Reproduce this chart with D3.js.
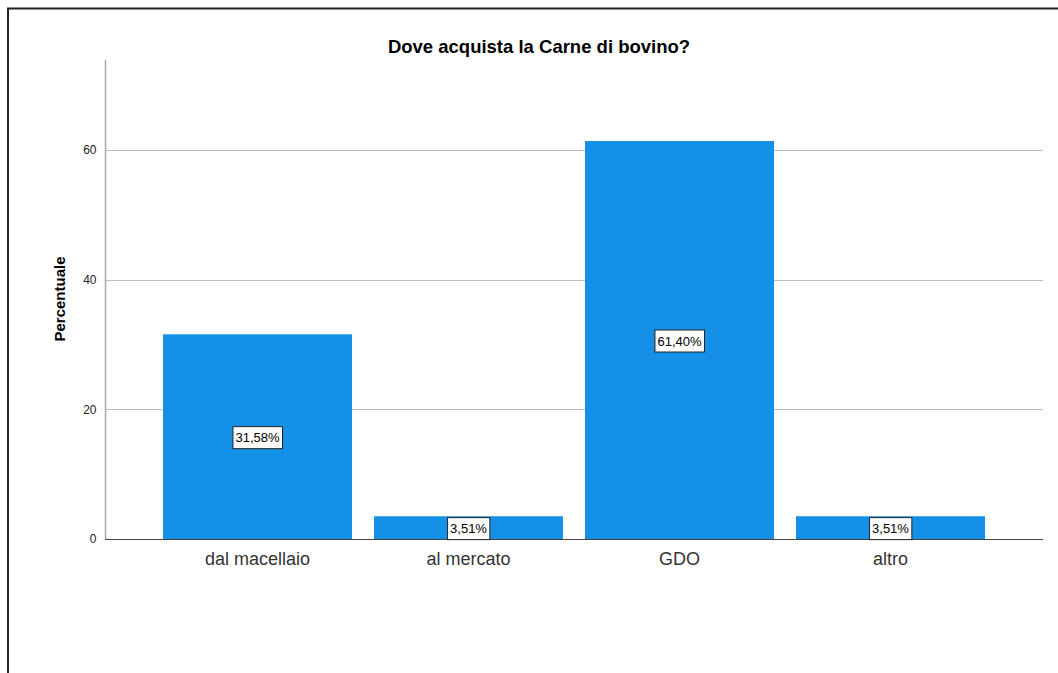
<!DOCTYPE html>
<html><head><meta charset="utf-8">
<script src="https://cdn.jsdelivr.net/npm/d3@7"></script>
<style>body{margin:0;background:#fff}svg{display:block}</style>
</head><body>
<svg id="c" width="1058" height="673"></svg>
<script>
const categories = ["dal macellaio","al mercato","GDO","altro"];
const values = [31.58, 3.51, 61.40, 3.51];
const labels = ["31,58%","3,51%","61,40%","3,51%"];
const yTicks = [0,20,40,60];
const title = "Dove acquista la Carne di bovino?";
const yTitle = "Percentuale";

const svg = d3.select("#c");
const font = "'Liberation Sans', Arial, sans-serif";
// frame
svg.append("rect").attr("x",8).attr("y",8.5).attr("width",1100).attr("height",700)
  .attr("fill","none").attr("stroke","#222").attr("stroke-width",2);

const x0=105, x1=1043, yBase=539, yTop=60;
const y = d3.scaleLinear().domain([0,73.9]).range([yBase,yTop]);
const x = d3.scaleBand().domain(categories).range([x0,x1]).paddingInner(0.1043).paddingOuter(0.275);

// gridlines
svg.append("g").selectAll("line").data(yTicks.filter(d=>d>0)).join("line")
  .attr("x1",x0).attr("x2",x1).attr("y1",d=>Math.round(y(d))+0.5).attr("y2",d=>Math.round(y(d))+0.5)
  .attr("stroke","#bdbdbd").attr("stroke-width",1);

// bars
svg.append("g").selectAll("rect").data(values).join("rect")
  .attr("x",(d,i)=>x(categories[i])).attr("width",x.bandwidth())
  .attr("y",d=>y(d)).attr("height",d=>yBase-y(d))
  .attr("fill","#1490e6");

// y axis
const yAxis = d3.axisLeft(y).tickValues(yTicks).tickSize(0).tickPadding(9);
const gy = svg.append("g").attr("transform",`translate(${x0+0.5},0)`).call(yAxis);
gy.select(".domain").attr("stroke","#a8a8a8").attr("stroke-width",1.5).attr("d",`M0,${yTop}V${yBase}`);
gy.selectAll("text").attr("font-family",font).attr("font-size",12).attr("fill","#222");

// x axis
const xAxis = d3.axisBottom(x).tickSize(0).tickPadding(13);
const gx = svg.append("g").attr("transform",`translate(0,${yBase+0.5})`).call(xAxis);
gx.select(".domain").attr("stroke","#444").attr("stroke-width",1).attr("d",`M${x0},0H${x1}`);
gx.selectAll("text").attr("font-family",font).attr("font-size",18).attr("fill","#333");

// value labels
const lg = svg.append("g").selectAll("g").data(values).join("g")
  .attr("transform",(d,i)=>`translate(${x(categories[i])+x.bandwidth()/2},${(y(d)+yBase)/2+1})`);
lg.append("text").text((d,i)=>labels[i]).attr("text-anchor","middle").attr("dy","0.36em")
  .attr("font-family",font).attr("font-size",13).attr("fill","#000");
lg.each(function(){
  const g=d3.select(this); const bb=g.select("text").node().getBBox();
  g.insert("rect","text").attr("x",bb.x-2.5).attr("y",-11).attr("width",bb.width+5).attr("height",22)
   .attr("fill","#fff").attr("stroke","#222").attr("stroke-width",1);
});

// titles
svg.append("text").attr("x",539).attr("y",53).attr("text-anchor","middle")
  .attr("font-family",font).attr("font-weight","bold").attr("font-size",18.5).attr("fill","#000").text(title);
svg.append("text").attr("transform","translate(65,299) rotate(-90)").attr("text-anchor","middle")
  .attr("font-family",font).attr("font-weight","bold").attr("font-size",15).attr("fill","#000").text(yTitle);
</script>
</body></html>
